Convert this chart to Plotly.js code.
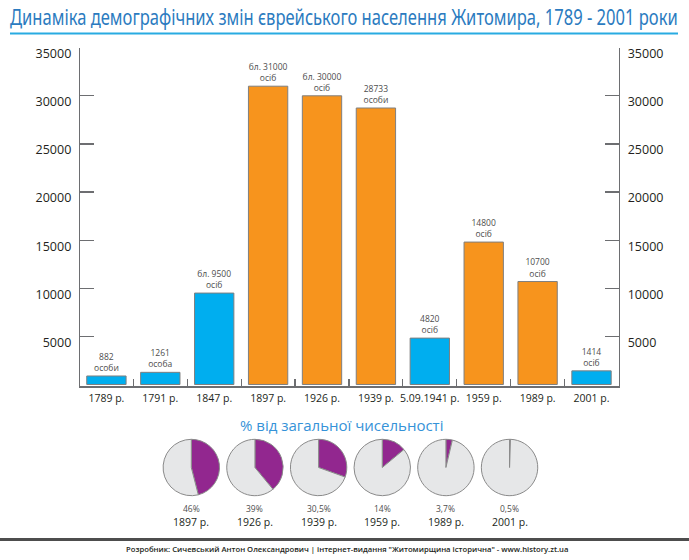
<!DOCTYPE html>
<html>
<head>
<meta charset="utf-8">
<script src="https://cdn.plot.ly/plotly-3.0.1.min.js"></script>
<style>html,body{margin:0;padding:0;background:#fff;}#chart{width:689px;height:560px;}</style>
</head>
<body>
<div id="chart"></div>
<script>
// ---- data ----
const categories = ['1789 р.', '1791 р.', '1847 р.', '1897 р.', '1926 р.', '1939 р.', '5.09.1941 р.', '1959 р.', '1989 р.', '2001 р.'];
const population = [882, 1261, 9500, 31000, 30000, 28733, 4820, 14800, 10700, 1414];
const barLabels = ['882<br>особи', '1261<br>особа', 'бл. 9500<br>осіб', 'бл. 31000<br>осіб', 'бл. 30000<br>осіб', '28733<br>особи', '4820<br>осіб', '14800<br>осіб', '10700<br>осіб', '1414<br>осіб'];
const barGroup = ['A', 'A', 'A', 'B', 'B', 'B', 'A', 'B', 'B', 'A'];
const yTickValues = [5000, 10000, 15000, 20000, 25000, 30000, 35000];
const pieYears = ['1897 р.', '1926 р.', '1939 р.', '1959 р.', '1989 р.', '2001 р.'];
const pieShare = [46, 39, 30.5, 14, 3.7, 0.5];
const pieShareLabels = ['46%', '39%', '30,5%', '14%', '3,7%', '0,5%'];

// ---- styles / layout helpers ----
const W = 689, H = 560;
const groupColor = {A: '#00aeef', B: '#f7941d'};
const axisCol = '#6d6e71';
const txtCol = '#231f20';
const px = v => v / W;
const py = v => 1 - v / H;

const traces = [];
traces.push({
  type: 'bar', x: categories, y: population,
  marker: {color: barGroup.map(g => groupColor[g]), line: {color: '#7f7f7f', width: 1}},
  text: barLabels, textposition: 'outside', cliponaxis: false,
  textfont: {size: 8.5, color: '#4d4d4d', family: 'Open Sans'},
  constraintext: 'none', textangle: 0, hoverinfo: 'skip'
});
traces.push({
  type: 'scatter', x: categories, y: population, yaxis: 'y2', mode: 'markers',
  marker: {opacity: 0}, hoverinfo: 'skip', showlegend: false
});

const pieStart = 191.3, pieStep = 63.65, pieR = 28.2, pieCy = 467.5;
const annotations = [];
pieShare.forEach((p, i) => {
  const cx = pieStart + i * pieStep;
  traces.push({
    type: 'pie', values: [p, 100 - p], sort: false, direction: 'clockwise', rotation: 0,
    marker: {colors: ['#92278f', '#e6e7e8'], line: {color: '#8a8a8a', width: 1}},
    textinfo: 'none', hoverinfo: 'skip', showlegend: false,
    domain: {x: [px(cx - pieR), px(cx + pieR)], y: [py(pieCy + pieR), py(pieCy - pieR)]}
  });
  annotations.push({xref: 'paper', yref: 'paper', x: px(cx), y: py(508), text: pieShareLabels[i],
    showarrow: false, xanchor: 'center', yanchor: 'middle', font: {size: 8.5, color: '#4d4d4d', family: 'Open Sans'}});
  annotations.push({xref: 'paper', yref: 'paper', x: px(cx), y: py(521.5), text: pieYears[i],
    showarrow: false, xanchor: 'center', yanchor: 'middle', font: {size: 10.5, color: txtCol, family: 'Open Sans'}});
});

annotations.push({xref: 'paper', yref: 'paper', x: px(341), y: py(425), text: '% від загальної чисельності',
  showarrow: false, xanchor: 'center', yanchor: 'middle', font: {size: 15, color: '#3592d8', family: 'Open Sans'}});
annotations.push({xref: 'paper', yref: 'paper', x: px(347), y: py(549), text: 'Розробник: Сичевський Антон Олександрович | інтернет-видання "Житомирщина історична" - www.history.zt.ua',
  showarrow: false, xanchor: 'center', yanchor: 'middle', font: {size: 7.7, color: txtCol, family: 'Open Sans', weight: 600}});

const yAxisCommon = {
  range: [-200, 35000], tickvals: yTickValues, ticktext: yTickValues.map(String),
  showgrid: false, zeroline: false, showline: true, linecolor: axisCol, linewidth: 1.2,
  ticks: 'inside', ticklen: 14, tickcolor: axisCol, tickwidth: 1.2,
  tickfont: {size: 12.5, color: txtCol, family: 'Open Sans'},
  ticklabelstandoff: 5, ticklabelshift: 6,
  domain: [py(386.4), py(47.7)], fixedrange: true
};

const layout = {
  width: W, height: H,
  margin: {l: 0, r: 0, t: 0, b: 0},
  paper_bgcolor: '#fff', plot_bgcolor: 'rgba(0,0,0,0)',
  showlegend: false,
  font: {family: 'Open Sans', color: txtCol},
  title: {text: 'Динаміка демографічних змін єврейського населення Житомира, 1789 - 2001 роки',
    x: px(10), xanchor: 'left', xref: 'paper', y: py(18), yanchor: 'middle',
    font: {family: 'Noto Sans', size: 21, color: '#2b7bc0'}},
  xaxis: {
    domain: [px(80), px(619)], range: [-0.49, 9.51], type: 'category',
    showgrid: false, zeroline: false, showline: true, linecolor: axisCol, linewidth: 1.2,
    ticks: 'inside', tickson: 'boundaries', ticklen: 7, tickcolor: axisCol, tickwidth: 1.2,
    tickangle: 0,
    tickfont: {size: 10.5, color: txtCol, family: 'Open Sans'}, ticklabelstandoff: 2,
    anchor: 'y', fixedrange: true
  },
  yaxis: Object.assign({}, yAxisCommon, {side: 'left', anchor: 'x'}),
  yaxis2: Object.assign({}, yAxisCommon, {side: 'right', overlaying: 'y', anchor: 'x'}),
  bargap: 0.27,
  annotations: annotations,
  shapes: [
    {type: 'line', xref: 'paper', yref: 'paper', x0: px(10), x1: px(678), y0: py(33.5), y1: py(33.5),
      line: {color: '#29abe2', width: 2}},
    {type: 'line', xref: 'paper', yref: 'paper', x0: 0, x1: 1, y0: py(539.5), y1: py(539.5),
      line: {color: '#4d4d4d', width: 3}}
  ]
};

Plotly.newPlot('chart', traces, layout, {staticPlot: true, displayModeBar: false}).then(() => {
  // condense the title horizontally so it fits the header width like the reference
  const t = document.querySelector('.gtitle');
  if (t) {
    const bb = t.getBBox();
    const target = 668;
    if (bb.width > target) {
      const s = target / bb.width;
      t.setAttribute('transform', 'translate(' + (bb.x * (1 - s)) + ',0) scale(' + s + ',1)');
    }
  }
});
</script>
</body>
</html>
